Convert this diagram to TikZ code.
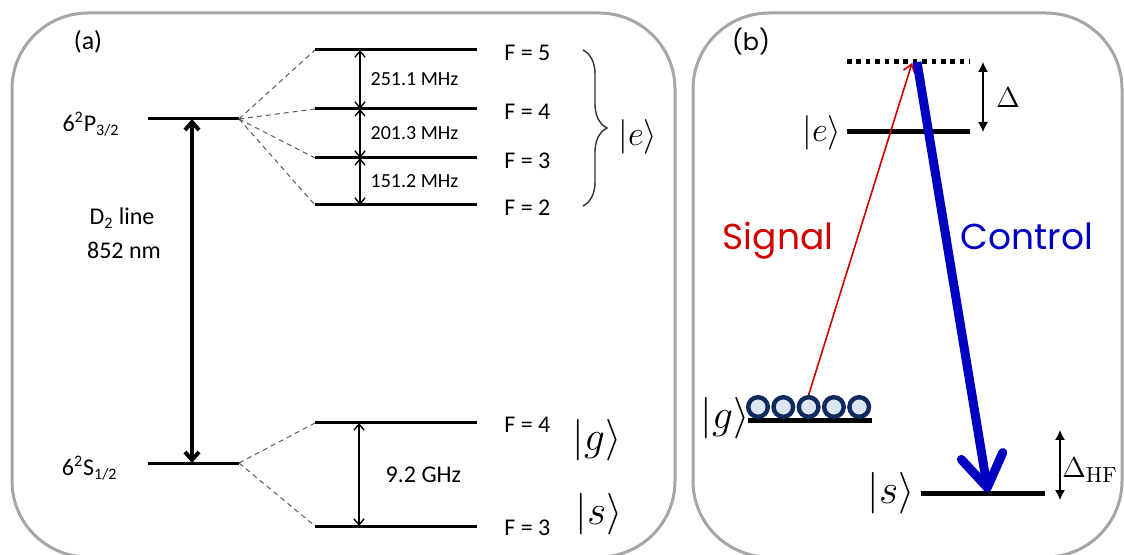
\documentclass[tikz,border=0pt]{standalone}
\usepackage{amsmath}
\usepackage[no-math]{fontspec}
\setmainfont{Carlito}
\newfontfamily\gothic{Poppins}
\usetikzlibrary{arrows.meta, positioning, calc, decorations.pathreplacing}

\definecolor{panelgray}{HTML}{A6A6A6}
\definecolor{sigred}{HTML}{D00000}
\definecolor{ctrlblue}{HTML}{0000C0}
\definecolor{atomfill}{HTML}{DCE6F2}
\definecolor{atomdraw}{HTML}{0F2A5C}

\begin{document}
\begin{tikzpicture}[x=0.5pt, y=-0.5pt,
    panel/.style={draw=panelgray, line width=1.5pt, rounded corners=38pt},
    levelA/.style={line width=1.5pt},
    levelB/.style={line width=2.5pt},
    split/.style={line width=0.5pt, black!65, dash pattern=on 2.5pt off 2pt},
    gap/.style={{Straight Barb[length=3pt,width=5pt]}-{Straight Barb[length=3pt,width=5pt]}, line width=0.7pt},
    detuning/.style={{Latex[length=5pt,width=5pt]}-{Latex[length=5pt,width=5pt]}, line width=0.6pt},
    lab/.style={font=\fontsize{12}{14}\selectfont, inner sep=1pt},
    small/.style={font=\fontsize{10}{12}\selectfont, inner sep=1pt},
    ket/.style={font=\fontsize{19}{22}\selectfont, inner sep=0pt},
    atom/.style={circle, draw=atomdraw, fill=atomfill, line width=2.2pt, minimum size=9.8pt, inner sep=0pt},
    signal/.style={sigred, line width=0.8pt, -{Straight Barb[length=4pt,width=6pt]}},
    control/.style={ctrlblue, line width=4.5pt, -{Straight Barb[length=16pt,width=21pt,round]}},
  ]
  \useasboundingbox (0,0) rectangle (1124,555);
  \begin{scope}
    \clip (0,0) rectangle (1124,555);
    \draw[panel] (12,13) rectangle (675,557);
    \draw[panel] (693,13) rectangle (1122,557);
  \end{scope}

  % (a) cesium D2 line
  \node[lab, font=\fontsize{13}{15}\selectfont] (tagA) at (88,42) {(a)};
  \coordinate (PL) at (148,119); \coordinate (PR) at (239,119);
  \coordinate (SL) at (148,463); \coordinate (SR) at (239,463);
  \draw[levelA] (PL) -- (PR);
  \draw[levelA] (SL) -- (SR);
  \node[lab, anchor=east] (Plab) at (122,124) {6\textsuperscript{2}P\textsubscript{3/2}};
  \node[lab, anchor=east] (Slab) at (120,468) {6\textsuperscript{2}S\textsubscript{1/2}};

  \foreach \f/\y in {5/50,4/109,3/158,2/205} {
    \coordinate (e\f L) at (315,\y);
    \coordinate (e\f R) at (477,\y);
    \coordinate (e\f M) at (360,\y);
    \draw[split] (PR) -- (e\f L);
    \draw[levelA] (e\f L) -- (e\f R);
    \node[lab, anchor=west] (Fe\f) at (502,\y+3) {F = \f};
  }
  \foreach \f/\y in {4/423,3/526} {
    \coordinate (g\f L) at (315,\y);
    \coordinate (g\f R) at (477,\y);
    \coordinate (g\f M) at (359,\y);
    \draw[split] (SR) -- (g\f L);
    \draw[levelA] (g\f L) -- (g\f R);
    \node[lab, anchor=west] (Fg\f) at (502,\y+2) {F = \f};
  }

  \draw[gap] (e5M) -- node[small, right=4pt] {251.1 MHz} (e4M);
  \draw[gap] (e4M) -- node[small, right=4pt] {201.3 MHz} (e3M);
  \draw[gap] (e3M) -- node[small, right=4pt] {151.2 MHz} (e2M);
  \draw[gap] (g4M) -- node[lab, right=12pt] {9.2 GHz} (g3M);

  \coordinate (D2top) at (192,119);
  \coordinate (D2bot) at (192,463);
  \draw[line width=2pt, {Straight Barb[length=4pt,width=7pt]}-{Straight Barb[length=4pt,width=7pt]}] (D2top) -- (D2bot);
  \node[lab] (D2lab) at (122,218) {D\textsubscript{2} line};
  \node[lab] (nmlab) at (124,250) {852 nm};

  \draw[decorate, decoration={brace, amplitude=12pt}, line width=0.7pt, black!80] (583,50) -- (583,206);
  \node[ket] (ketEa) at (638,137) {$|e\rangle$};
  \node[ket, font=\fontsize{20}{22}\selectfont] (ketGa) at (597,440) {$|g\rangle$};
  \node[ket, font=\fontsize{22}{24}\selectfont] (ketSa) at (599,514) {$|s\rangle$};

  % (b) Raman memory scheme
  \node[font=\gothic\fontsize{12}{14}\selectfont] (tagB) at (751,42) {(b)};
  \coordinate (vL) at (847,62);  \coordinate (vR) at (970,62);
  \coordinate (eL) at (847,132); \coordinate (eR) at (970,132);
  \coordinate (gL) at (748,421); \coordinate (gR) at (872,421);
  \coordinate (sL) at (921,493); \coordinate (sR) at (1045,493);
  \draw[levelB, dash pattern=on 2.3pt off 2.4pt] (vL) -- (vR);
  \draw[levelB] (eL) -- (eR);
  \draw[levelB] (gL) -- (gR);
  \draw[levelB] (sL) -- (sR);

  \node[ket, font=\fontsize{17}{20}\selectfont] (ketEb) at (822,133) {$|e\rangle$};
  \node[ket, font=\fontsize{20}{22}\selectfont] (ketGb) at (725,418) {$|g\rangle$};
  \node[ket, font=\fontsize{22}{24}\selectfont] (ketSb) at (891,493) {$|s\rangle$};

  \coordinate (dTop) at (983,62);  \coordinate (dBot) at (983,132);
  \draw[detuning] (dTop) -- (dBot);
  \node[font=\fontsize{14}{16}\selectfont] (Dlab) at (1008,98) {$\Delta$};
  \coordinate (hfTop) at (1060,430); \coordinate (hfBot) at (1060,500);
  \draw[detuning] (hfTop) -- (hfBot);
  \node[font=\fontsize{15}{17}\selectfont] (HFlab) at (1090,470) {$\Delta_{\mathrm{HF}}$};

  \foreach \i in {0,...,4}
    \node[atom] (atom\i) at (758+25.3*\i,407) {};

  \coordinate (sigTop) at (912,63);
  \coordinate (ctrlTop) at (917,62);
  \coordinate (ctrlBot) at (988,492);
  \draw[signal] (atom2.north) -- (sigTop);
  \draw[control] (ctrlTop) -- (ctrlBot);
  \node[font=\gothic\fontsize{18}{20}\selectfont, text=sigred, anchor=base] (sigLab) at (778,250) {Signal};
  \node[font=\gothic\fontsize{18}{20}\selectfont, text=ctrlblue, anchor=base] (ctrlLab) at (1027,250) {Control};
\end{tikzpicture}
\end{document}
